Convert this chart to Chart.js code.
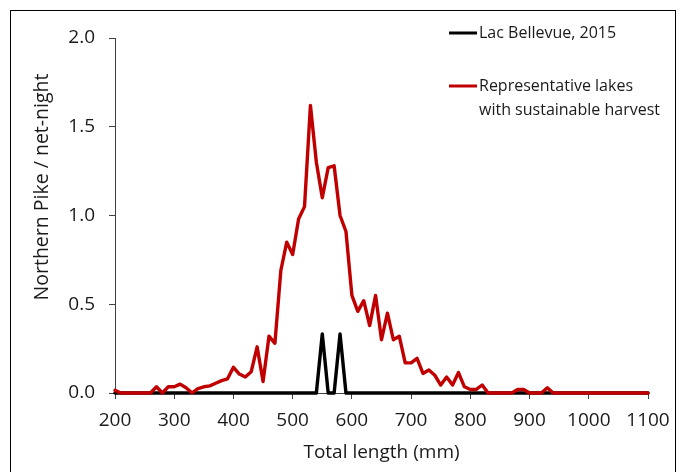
<!DOCTYPE html>
<html><head><meta charset="utf-8">
<script src="https://cdn.jsdelivr.net/npm/chart.js@4.4.1/dist/chart.umd.min.js"></script>
<style>html,body{margin:0;padding:0;background:#fff;} canvas{display:block;}</style>
</head><body>
<canvas id="c" width="686" height="472"></canvas>
<script>
const lengths = [200,210,220,230,240,250,260,270,280,290,300,310,320,330,340,350,360,370,380,390,400,410,420,430,440,450,460,470,480,490,500,510,520,530,540,550,560,570,580,590,600,610,620,630,640,650,660,670,680,690,700,710,720,730,740,750,760,770,780,790,800,810,820,830,840,850,860,870,880,890,900,910,920,930,940,950,960,970,980,990,1000,1010,1020,1030,1040,1050,1060,1070,1080,1090,1100];
const bellevue = [0,0,0,0,0,0,0,0,0,0, 0,0,0,0,0,0,0,0,0,0, 0,0,0,0,0,0,0,0,0,0, 0,0,0,0,0,0.333,0,0,0.333,0, 0,0,0,0,0,0,0,0,0,0, 0,0,0,0,0,0,0,0,0,0, 0,0,0,0,0,0,0,0,0,0, 0,0,0,0,0,0,0,0,0,0, 0,0,0,0,0,0,0,0,0,0, 0];
const representative = [0.015,0,0,0,0,0,0,0.035,0,0.035, 0.035,0.05,0.03,0,0.025,0.035,0.04,0.055,0.07,0.08, 0.145,0.107,0.09,0.12,0.26,0.065,0.32,0.28,0.69,0.85, 0.78,0.98,1.05,1.62,1.30,1.10,1.27,1.28,1.00,0.91, 0.55,0.46,0.52,0.38,0.55,0.30,0.45,0.30,0.32,0.17, 0.17,0.195,0.11,0.13,0.10,0.045,0.09,0.045,0.115,0.035, 0.02,0.02,0.045,0,0,0,0,0,0.02,0.02, 0,0,0,0.03,0,0,0,0,0,0, 0,0,0,0,0,0,0,0,0,0, 0];
const xTicks = [200,300,400,500,600,700,800,900,1000,1100];
const xTickLabels = ['200','300','400','500','600','700','800','900','1000','1100'];
const yTicks = [0,0.5,1.0,1.5,2.0];
const yTickLabels = ['0.0','0.5','1.0','1.5','2.0'];
const bellevueLabel = ['Lac Bellevue, 2015'];
const representativeLabel = ['Representative lakes','with sustainable harvest'];
const xTitle = 'Total length (mm)';
const yTitle = 'Northern Pike / net-night';

const FONT = '"Open Sans", "DejaVu Sans", sans-serif';
const TXT = '#1a1a1a';
const AX = '#404040';

const deco = {
  id: 'deco',
  afterDraw(chart) {
    const ctx = chart.ctx;
    ctx.save();
    ctx.strokeStyle = '#000';
    ctx.lineWidth = 1;
    ctx.strokeRect(10.5, 10.5, 665, 520);
    ctx.fillStyle = TXT;
    ctx.font = '19.5px ' + FONT;
    ctx.textBaseline = 'middle';
    ctx.save();
    ctx.translate(42, 187);
    ctx.rotate(-Math.PI / 2);
    ctx.textAlign = 'center';
    ctx.fillText(yTitle, 0, 0);
    ctx.restore();
    // legend
    const ds = chart.data.datasets;
    const entries = [[ds[0], 33], [ds[1], 86]];
    ctx.textAlign = 'left';
    ctx.font = '16px ' + FONT;
    entries.forEach(([d, y]) => {
      ctx.strokeStyle = d.borderColor;
      ctx.lineWidth = 3;
      ctx.beginPath();
      ctx.moveTo(449, y); ctx.lineTo(477, y);
      ctx.stroke();
      ctx.fillStyle = TXT;
      d.legendLines.forEach((t, i) => ctx.fillText(t, 479, y + i * 24));
    });
    ctx.restore();
  }
};

Chart.defaults.font.family = FONT;
Chart.defaults.color = TXT;

new Chart(document.getElementById('c'), {
  type: 'line',
  data: {
    datasets: [
      { label: bellevueLabel.join(' '), legendLines: bellevueLabel,
        data: lengths.map((x, i) => ({x, y: bellevue[i]})),
        borderColor: '#000000', borderWidth: 3.4, pointRadius: 0, tension: 0,
        borderJoinStyle: 'round', borderCapStyle: 'round', clip: false, order: 2 },
      { label: representativeLabel.join(' '), legendLines: representativeLabel,
        data: lengths.map((x, i) => ({x, y: representative[i]})),
        borderColor: '#C00000', borderWidth: 3.4, pointRadius: 0, tension: 0,
        borderJoinStyle: 'round', borderCapStyle: 'round', clip: false, order: 1 }
    ]
  },
  options: {
    responsive: false,
    animation: false,
    layout: { padding: { left: 0, top: 38, right: 38, bottom: 0 } },
    plugins: { legend: { display: false }, tooltip: { enabled: false } },
    scales: {
      x: {
        type: 'linear', min: 200, max: 1100,
        afterBuildTicks: s => { s.ticks = xTicks.map(v => ({value: v})); },
        afterFit: s => { s.height = 79; },
        ticks: { font: { size: 19 }, padding: 10, maxRotation: 0, autoSkip: false, color: TXT,
          callback: (v) => xTickLabels[xTicks.indexOf(v)] },
        grid: { drawOnChartArea: false, drawTicks: true, tickLength: 6, color: AX },
        border: { display: true, color: AX, width: 1 },
        title: { display: true, text: xTitle, font: { size: 19 }, color: TXT, padding: { top: 0, bottom: 8 } }
      },
      y: {
        type: 'linear', min: 0, max: 2,
        afterBuildTicks: s => { s.ticks = yTicks.map(v => ({value: v})); },
        afterFit: s => { s.width = 115; },
        ticks: { font: { size: 19 }, padding: 14, color: TXT,
          callback: (v) => yTickLabels[yTicks.indexOf(v)] },
        grid: { drawOnChartArea: false, drawTicks: true, tickLength: 6, color: AX },
        border: { display: true, color: AX, width: 1 }
      }
    }
  },
  plugins: [deco]
});
</script>
</body></html>
